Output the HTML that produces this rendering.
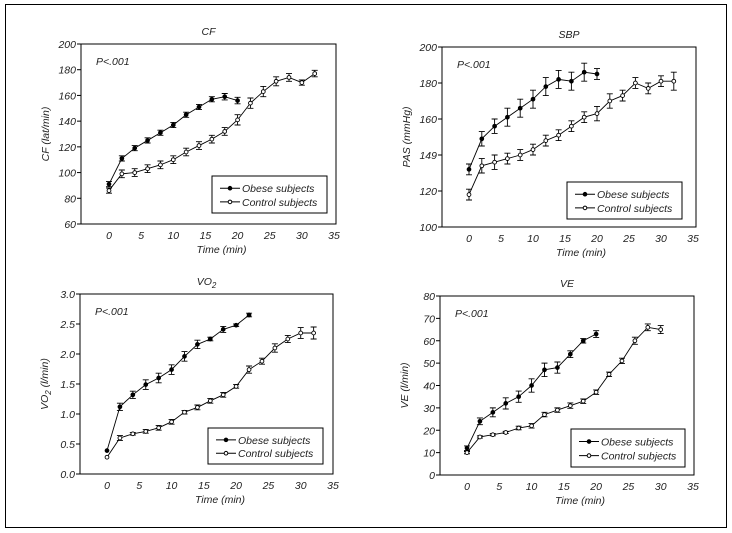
<!DOCTYPE html>
<html><head><meta charset="utf-8"><style>
html,body{margin:0;padding:0;background:#fff;}
svg{display:block;font-family:"Liberation Sans",sans-serif;font-style:italic;}
</style></head><body>
<svg id="fig" width="732" height="533" viewBox="0 0 732 533">
<rect x="5.5" y="4.5" width="721" height="523" fill="none" stroke="#000" stroke-width="1"/>
</svg>
<script>
const times=[0,2,4,6,8,10,12,14,16,18,20,22,24,26,28,30,32];
const xTicks=[0,5,10,15,20,25,30,35];
const cfObese=[91,111,119,125,131,137,145,151,157,159,156];
const cfObeseErr=[2,2,2,2,2,2,2,2,2,2.5,2.5];
const cfControl=[86,99,100,103,106,110,116,121,126,132,141,154,163,171,174,170,177];
const cfControlErr=[2,3,3,3,3,3,3,3,3,3,4,4,4,3.5,3,2,2.5];
const sbpObese=[132,149,156,161,166,171,178,182,181,186,185];
const sbpObeseErr=[3,4,4,5,5,5,5,5,5,5,3];
const sbpControl=[118,134,136,138,140,143,148,151,156,161,163,170,173,180,177,181,181];
const sbpControlErr=[3,4,4,3,3,3,3,3,3,3,4,4,3,3,3,3,5];
const vo2Obese=[0.39,1.12,1.32,1.49,1.60,1.74,1.96,2.16,2.25,2.41,2.48,2.65];
const vo2ObeseErr=[0,0.06,0.06,0.08,0.08,0.08,0.08,0.07,0.03,0.05,0.02,0.03];
const vo2Control=[0.28,0.60,0.67,0.71,0.77,0.87,1.03,1.11,1.22,1.32,1.46,1.74,1.88,2.10,2.25,2.35,2.35];
const vo2ControlErr=[0,0.04,0.02,0.03,0.04,0.04,0.03,0.04,0.04,0.04,0.03,0.06,0.05,0.07,0.06,0.09,0.1];
const veObese=[12,24,28,32,35,40,47,48,54,60,63];
const veObeseErr=[1,1.5,2,2.5,2.5,3,3,2.5,1.5,1,1.5];
const veControl=[10,17,18,19,21,22,27,29,31,33,37,45,51,60,66,65];
const veControlErr=[0.5,0.5,0.5,0.5,0.8,1,1,1,1.2,1,1,1,1.2,1.6,1.5,1.8];
const cfTicks=[60,80,100,120,140,160,180,200];
const sbpTicks=[100,120,140,160,180,200];
const sbpTickLabels=["100","120","149","160","180","200"];
const vo2Ticks=[0,0.5,1,1.5,2,2.5,3];
const vo2TickLabels=["0.0","0.5","1.0","1.5","2.0","2.5","3.0"];
const veTicks=[0,10,20,30,40,50,60,70,80];

const NS="http://www.w3.org/2000/svg";
const svg=document.getElementById('fig');
function mk(tag,attrs,parent,text){const e=document.createElementNS(NS,tag);for(const k in attrs)e.setAttribute(k,attrs[k]);if(text!==undefined)e.textContent=text;(parent||svg).appendChild(e);return e;}
const FS=10.5, FC='#222';

function panel(o){
  const g=mk('g',{});
  
  
  const X=t=>o.x0+(t-0)*(o.x35-o.x0)/35;
  const Y=v=>o.b-(v-o.ymin)*(o.b-o.t)/(o.ymax-o.ymin);
  const box=mk('rect',{x:o.l,y:o.t,width:o.r-o.l,height:o.b-o.t,fill:'none',stroke:'#000','stroke-width':1},g);
  
  
  const title=mk('text',{x:(o.l+o.r)/2,y:o.t-9,'text-anchor':'middle','font-size':FS,fill:FC},g);
  
  
  title.innerHTML=o.title;
  o.yticks.forEach((v,i)=>{
    mk('line',{x1:o.l-4,x2:o.l,y1:Y(v),y2:Y(v),stroke:'#000'},g);
    const tl=mk('text',{x:o.l-5,y:Y(v)+4,'text-anchor':'end','font-size':FS,fill:FC},g,o.ylabels?o.ylabels[i]:String(v));
    
    
  });
  xTicks.forEach(t=>{
    const tl=mk('text',{x:X(t),y:o.b+15,'text-anchor':'middle','font-size':FS,fill:FC},g,String(t));
    
    
  });
  const xt=mk('text',{x:X(17.5),y:o.b+29,'text-anchor':'middle','font-size':FS,fill:FC},g,'Time (min)');
  
  
  const yt=mk('text',{x:0,y:0,'text-anchor':'middle','font-size':FS,fill:FC,transform:`translate(${o.l-32},${(o.t+o.b)/2}) rotate(-90)`},g);
  yt.innerHTML=o.ytitle;
  
  
  const p=mk('text',{x:o.l+15,y:o.t+21,'font-size':FS,fill:FC},g,'P<.001');
  
  
  function series(vals,errs,filled,nm){
    const sg=mk('g',{},g);
    
    
    const pts=vals.map((v,i)=>X(times[i])+','+Y(v)).join(' ');
    mk('polyline',{points:pts,fill:'none',stroke:'#000','stroke-width':0.9},sg);
    vals.forEach((v,i)=>{
      const x=X(times[i]);
      if(errs[i]>0){const y1=Y(v+errs[i]),y2=Y(v-errs[i]);
        mk('path',{d:`M${x},${y1}V${y2}M${x-3},${y1}H${x+3}M${x-3},${y2}H${x+3}`,stroke:'#000',fill:'none','stroke-width':0.9},sg);}
      const c=mk('circle',{cx:x,cy:Y(v),r:1.9,fill:filled?'#000':'#fff',stroke:'#000','stroke-width':0.9},sg);
      
      
    });
  }
  series(o.control,o.controlErr,false,'control');
  series(o.obese,o.obeseErr,true,'obese');
  const L=o.leg;
  const lg=mk('g',{},g);
  
  
  mk('rect',{x:L[0],y:L[1],width:L[2]-L[0],height:L[3]-L[1],fill:'#fff',stroke:'#000'},lg);
  const h=L[3]-L[1];
  [['Obese subjects',true,h*0.33],['Control subjects',false,h*0.7]].forEach(([txt,f,dy])=>{
    const yy=L[1]+dy;
    mk('line',{x1:L[0]+8,x2:L[0]+28,y1:yy,y2:yy,stroke:'#000'},lg);
    mk('circle',{cx:L[0]+18,cy:yy,r:1.8,fill:f?'#000':'#fff',stroke:'#000'},lg);
    const t=mk('text',{x:L[0]+30,y:yy+4,'font-size':FS,fill:FC},lg,txt);
    
    
  });
}
panel({name:'cf',l:81,r:336,t:44,b:224,x0:109,x35:334,ymin:60,ymax:200,yticks:cfTicks,title:'CF',ytitle:'CF (lat/min)',obese:cfObese,obeseErr:cfObeseErr,control:cfControl,controlErr:cfControlErr,leg:[212,176,327,213]});
panel({name:'sbp',l:442,r:696,t:47,b:227,x0:469,x35:693,ymin:100,ymax:200,yticks:sbpTicks,ylabels:sbpTickLabels,title:'SBP',ytitle:'PAS (mmHg)',obese:sbpObese,obeseErr:sbpObeseErr,control:sbpControl,controlErr:sbpControlErr,leg:[567,182,682,219]});
panel({name:'vo2',l:80,r:333,t:294,b:474,x0:107,x35:333,ymin:0,ymax:3,yticks:vo2Ticks,ylabels:vo2TickLabels,title:'VO<tspan font-size="8" dy="3">2</tspan>',ytitle:'VO<tspan font-size="8" dy="3">2</tspan><tspan dy="-3"> (l/min)</tspan>',obese:vo2Obese,obeseErr:vo2ObeseErr,control:vo2Control,controlErr:vo2ControlErr,leg:[208,428,323,464]});
panel({name:'ve',l:440,r:694,t:296,b:475,x0:467,x35:693,ymin:0,ymax:80,yticks:veTicks,title:'VE',ytitle:'VE (l/min)',obese:veObese,obeseErr:veObeseErr,control:veControl,controlErr:veControlErr,leg:[571,429,685,467]});
</script>
</body></html>
